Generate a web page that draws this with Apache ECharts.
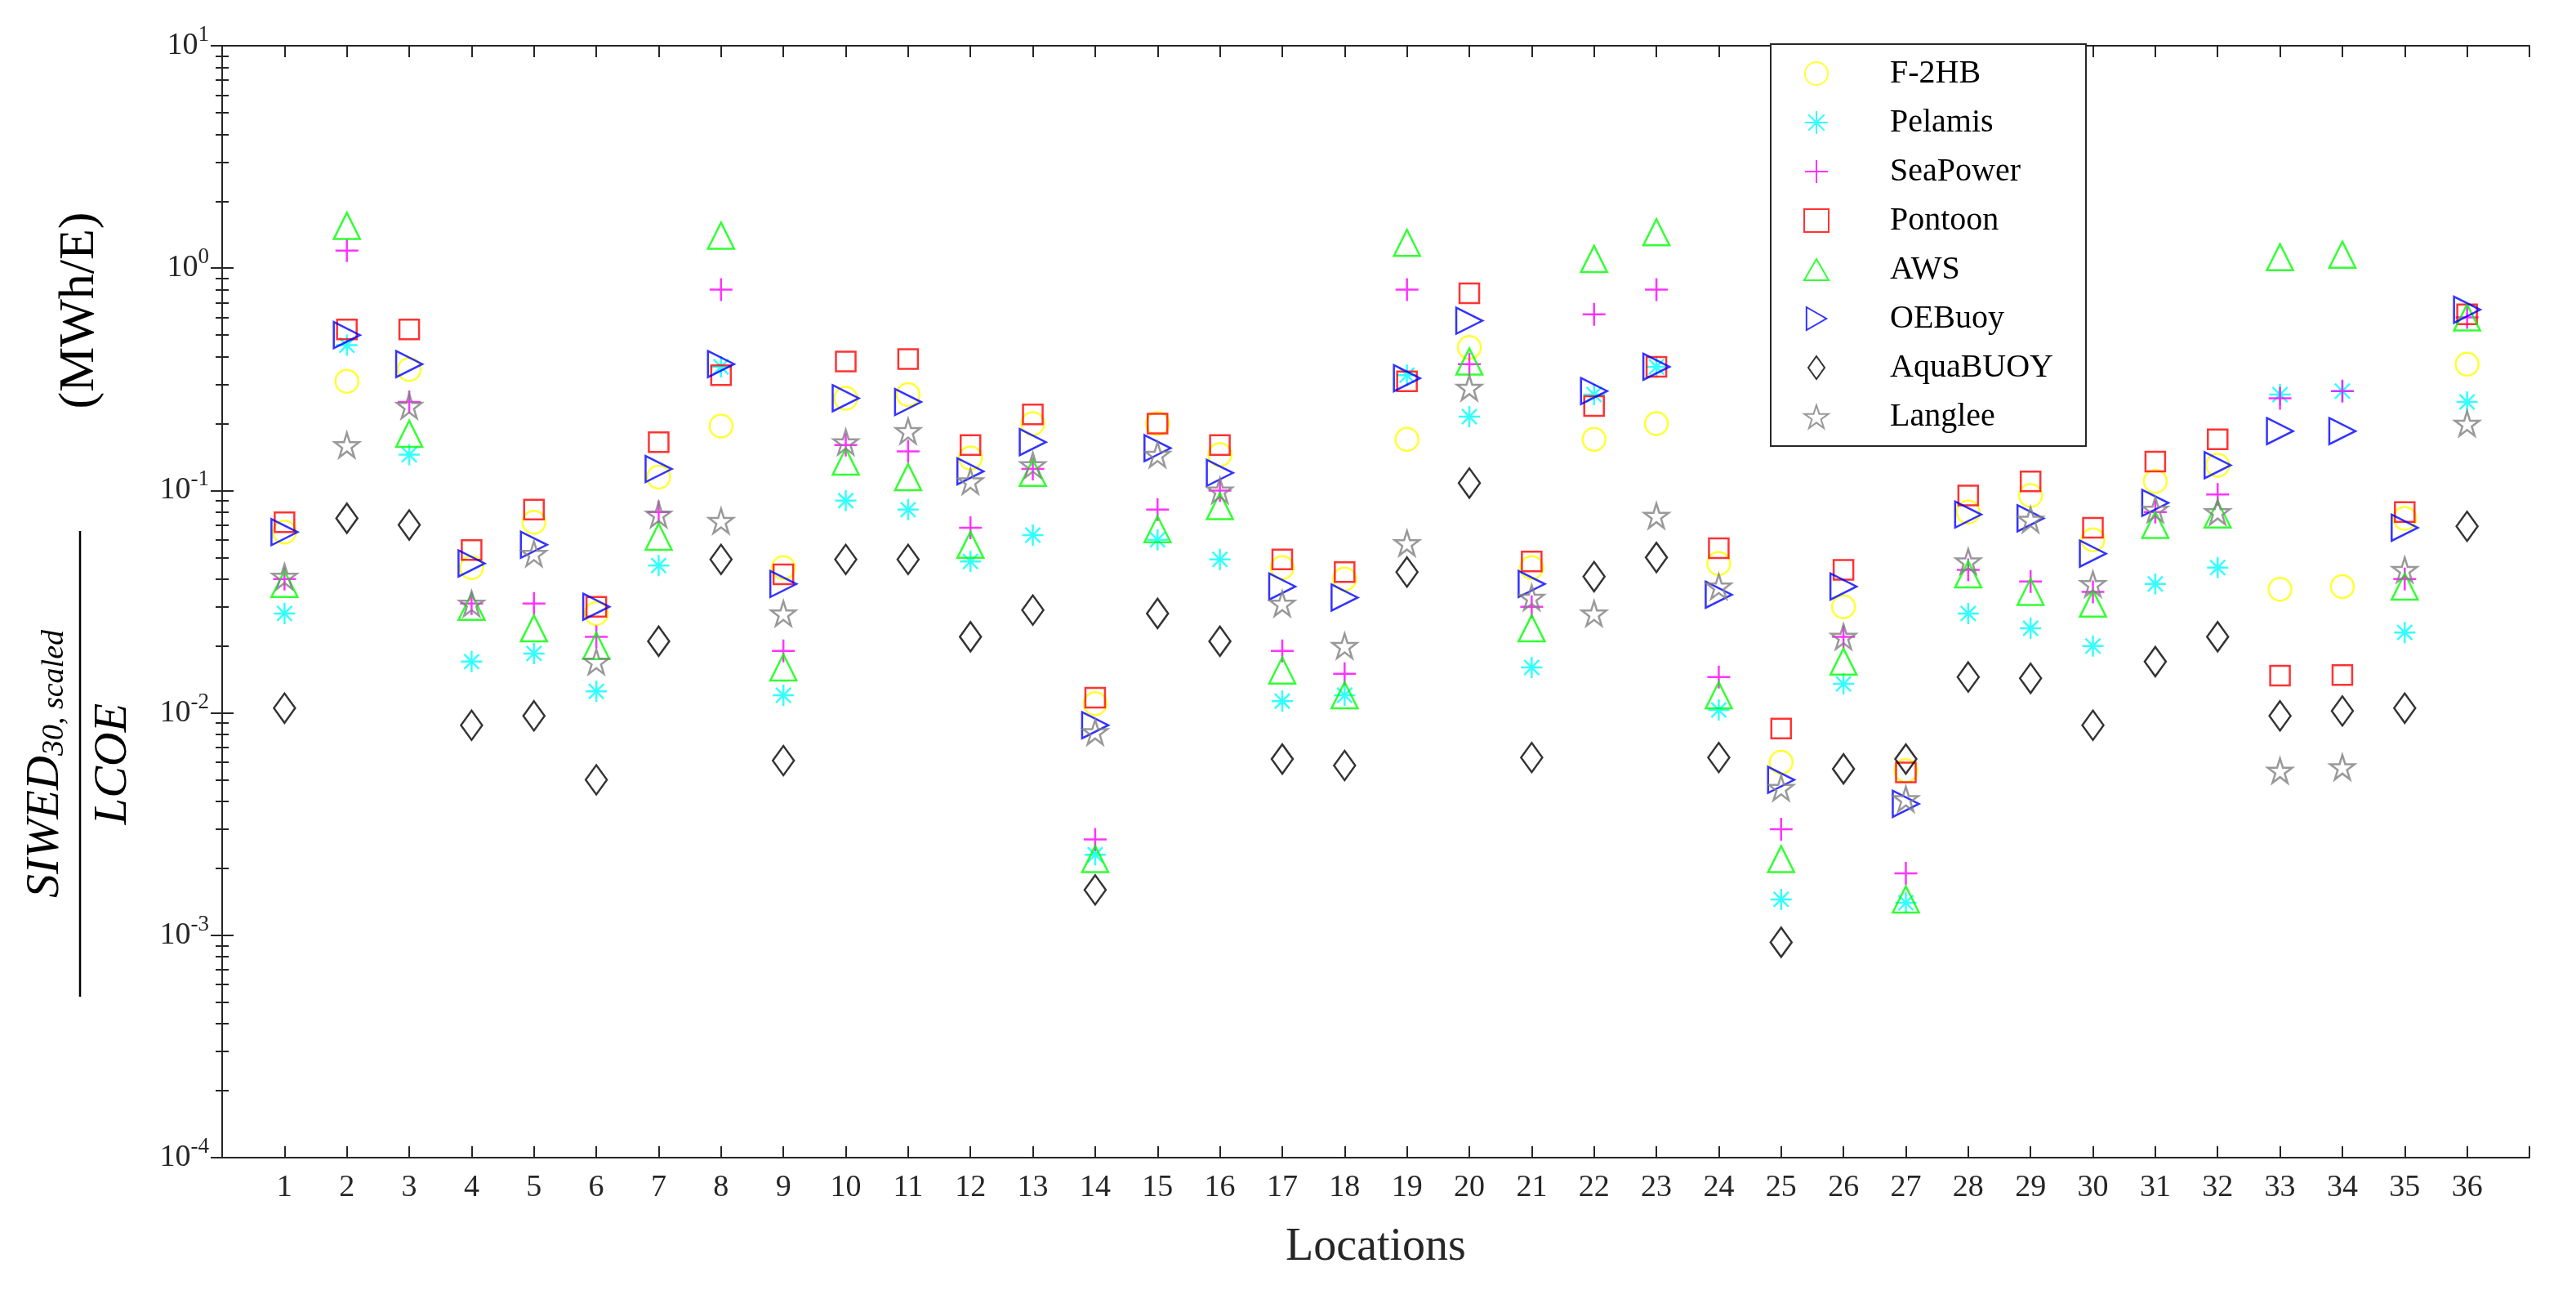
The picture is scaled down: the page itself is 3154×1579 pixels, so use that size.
<!DOCTYPE html>
<html lang="en">
<head>
    <meta charset="UTF-8">
    <title>SIWED / LCOE</title>
    <script src="https://cdn.jsdelivr.net/npm/echarts@6/dist/echarts.min.js"></script>
    <style>
        html, body {margin: 0; padding: 0; background: #fff;}
        #main {width: 3154px; height: 1579px;}
    </style>
</head>
<body>
<div id="main"></div>
<script>
    // 数据
    let locations = [];
    for (let i = 1; i <= 36; i++) locations.push(i);
    let yTicks = [1e-4, 1e-3, 1e-2, 1e-1, 1, 10];

    let f2hb = [0.065, 0.31, 0.35, 0.045, 0.072, 0.028, 0.115, 0.195, 0.045, 0.26, 0.27, 0.14, 0.2, 0.011, 0.2, 0.145, 0.045, 0.04,
        0.17, 0.44, 0.045, 0.17, 0.2, 0.047, 0.006, 0.03, 0.0055, 0.08, 0.095, 0.06, 0.11, 0.13, 0.036, 0.037, 0.075, 0.37];
    let pelamis = [0.028, 0.45, 0.145, 0.017, 0.0185, 0.0125, 0.046, 0.36, 0.012, 0.09, 0.082, 0.048, 0.063, 0.0023, 0.06, 0.049, 0.0113, 0.012,
        0.33, 0.215, 0.016, 0.27, 0.36, 0.0103, 0.00145, 0.0135, 0.0014, 0.028, 0.024, 0.02, 0.038, 0.045, 0.27, 0.28, 0.023, 0.25];
    let seaPower = [0.04, 1.2, 0.25, 0.031, 0.031, 0.022, 0.08, 0.8, 0.019, 0.16, 0.15, 0.068, 0.125, 0.0027, 0.082, 0.1, 0.019, 0.015,
        0.8, 0.37, 0.03, 0.62, 0.8, 0.0145, 0.003, 0.022, 0.0019, 0.044, 0.039, 0.035, 0.08, 0.096, 0.26, 0.28, 0.04, 0.6];
    let pontoon = [0.072, 0.53, 0.53, 0.054, 0.082, 0.03, 0.165, 0.33, 0.042, 0.38, 0.39, 0.16, 0.22, 0.0117, 0.2, 0.16, 0.049, 0.043,
        0.31, 0.77, 0.048, 0.24, 0.36, 0.055, 0.0085, 0.044, 0.0054, 0.095, 0.11, 0.068, 0.135, 0.17, 0.0147, 0.0148, 0.08, 0.62];
    let aws = [0.038, 1.55, 0.18, 0.03, 0.024, 0.02, 0.062, 1.4, 0.016, 0.135, 0.115, 0.057, 0.12, 0.0022, 0.067, 0.085, 0.0155, 0.012,
        1.3, 0.38, 0.024, 1.1, 1.45, 0.012, 0.0022, 0.017, 0.00145, 0.042, 0.035, 0.031, 0.07, 0.078, 1.12, 1.15, 0.037, 0.6];
    let oeBuoy = [0.065, 0.5, 0.37, 0.047, 0.057, 0.03, 0.125, 0.37, 0.038, 0.26, 0.25, 0.122, 0.165, 0.0088, 0.155, 0.12, 0.037, 0.033,
        0.32, 0.58, 0.038, 0.28, 0.36, 0.034, 0.005, 0.037, 0.0039, 0.078, 0.075, 0.052, 0.088, 0.13, 0.185, 0.185, 0.068, 0.65];
    let aquaBuoy = [0.0105, 0.075, 0.07, 0.0088, 0.0097, 0.005, 0.021, 0.049, 0.0061, 0.049, 0.049, 0.022, 0.029, 0.0016, 0.028, 0.021, 0.0062, 0.0058,
        0.043, 0.108, 0.0063, 0.041, 0.05, 0.0063, 0.00093, 0.0056, 0.0062, 0.0145, 0.0143, 0.0088, 0.017, 0.022, 0.0097, 0.0102, 0.0105, 0.069];
    let langlee = [0.041, 0.16, 0.24, 0.031, 0.052, 0.017, 0.078, 0.073, 0.028, 0.165, 0.185, 0.11, 0.13, 0.0082, 0.145, 0.1, 0.031, 0.02,
        0.058, 0.29, 0.033, 0.028, 0.077, 0.037, 0.0046, 0.022, 0.0041, 0.048, 0.074, 0.038, 0.082, 0.08, 0.0055, 0.0057, 0.044, 0.2];

    // 符号
    let sym = {
        circle: 'circle',
        asterisk: 'path://M5,0 L5,10 M0,5 L10,5 M1.5,1.5 L8.5,8.5 M8.5,1.5 L1.5,8.5',
        plus: 'path://M5,0 L5,10 M0,5 L10,5',
        square: 'rect',
        triUp: 'path://M5,0 L10,8.7 L0,8.7 Z',
        triRight: 'path://M0,0 L8.7,5 L0,10 Z',
        diamond: 'path://M5,0 L10,7 L5,14 L0,7 Z',
        star: 'path://M5,0 L6.18,3.62 L10,3.62 L6.9,5.86 L8.09,9.5 L5,7.24 L1.91,9.5 L3.1,5.86 L0,3.62 L3.82,3.62 Z'
    };

    let seriesDefs = [
        {name: 'F-2HB', data: f2hb, color: '#ffff00', symbol: sym.circle, size: 28},
        {name: 'Pelamis', data: pelamis, color: '#00ffff', symbol: sym.asterisk, size: 26},
        {name: 'SeaPower', data: seaPower, color: '#ff00ff', symbol: sym.plus, size: 28},
        {name: 'Pontoon', data: pontoon, color: '#ff0000', symbol: sym.square, size: 24},
        {name: 'AWS', data: aws, color: '#00ff00', symbol: sym.triUp, size: 32},
        {name: 'OEBuoy', data: oeBuoy, color: '#0000ff', symbol: sym.triRight, size: 32},
        {name: 'AquaBUOY', data: aquaBuoy, color: '#000000', symbol: sym.diamond, size: [26, 36]},
        {name: 'Langlee', data: langlee, color: '#808080', symbol: sym.star, size: 30}
    ];

    let font = '"Liberation Serif", "DejaVu Serif", serif';

    let series = seriesDefs.map(s => ({
        name: s.name,
        type: 'scatter',
        symbol: s.symbol,
        symbolSize: s.size,
        data: locations.map((x, i) => [x, s.data[i]]),
        itemStyle: {color: 'rgba(0,0,0,0)', borderColor: s.color, borderWidth: 2.5},
        emphasis: {disabled: true}
    }));

    let myChart = echarts.init(document.getElementById('main'));
    let tickStyle = {inside: true, length: 14, lineStyle: {color: '#262626', width: 2}};
    let option = {
        animation: false,
        backgroundColor: '#fff',
        grid: {left: 272, right: 57, top: 56, bottom: 162},
        legend: {
            orient: 'vertical',
            left: 2168, top: 54,
            padding: [16, 40, 16, 40],
            itemGap: 20,
            itemWidth: 30, itemHeight: 28,
            borderColor: '#262626', borderWidth: 2,
            backgroundColor: '#fff',
            textStyle: {fontFamily: font, fontSize: 40, color: '#000', padding: [0, 0, 0, 70], width: 265},
            data: seriesDefs.map(s => s.name)
        },
        xAxis: [{
            type: 'value', min: 0, max: 37, interval: 1,
            name: 'Locations', nameLocation: 'middle', nameGap: 82,
            nameTextStyle: {fontFamily: font, fontSize: 56, color: '#262626'},
            axisLine: {lineStyle: {color: '#262626', width: 2}},
            axisTick: tickStyle,
            splitLine: {show: false},
            axisLabel: {
                fontFamily: font, fontSize: 38, color: '#262626', margin: 18,
                formatter: v => (v >= 1 && v <= 36) ? String(v) : ''
            }
        }, {
            type: 'value', min: 0, max: 37, interval: 1, position: 'top',
            axisLine: {lineStyle: {color: '#262626', width: 2}},
            axisTick: tickStyle, axisLabel: {show: false}, splitLine: {show: false}
        }],
        yAxis: [{
            type: 'log', min: yTicks[0], max: yTicks[yTicks.length - 1], logBase: 10,
            axisLine: {show: true, lineStyle: {color: '#262626', width: 2}},
            axisTick: tickStyle,
            minorTick: {show: true, splitNumber: 9, length: 8, lineStyle: {color: '#262626', width: 2}},
            splitLine: {show: false},
            axisLabel: {
                margin: 16,
                formatter: v => '{b|10}{s|' + Math.round(Math.log10(v)) + '}',
                rich: {
                    b: {fontFamily: font, fontSize: 38, color: '#262626'},
                    s: {fontFamily: font, fontSize: 27, color: '#262626', padding: [0, 0, 26, 0]}
                }
            }
        }, {
            type: 'log', min: yTicks[0], max: yTicks[yTicks.length - 1], logBase: 10, position: 'right',
            axisLine: {show: true, lineStyle: {color: '#262626', width: 2}},
            axisTick: tickStyle,
            minorTick: {show: true, splitNumber: 9, length: 8, lineStyle: {color: '#262626', width: 2}},
            axisLabel: {show: false}, splitLine: {show: false}
        }],
        graphic: [{
            type: 'group', x: 104, y: 735, rotation: Math.PI / 2,
            children: [
                {
                    type: 'text', x: -200, y: -18,
                    style: {
                        text: '{m|SIWED}{s|30, scaled}', align: 'center', verticalAlign: 'bottom',
                        rich: {
                            m: {fontFamily: font, fontStyle: 'italic', fontSize: 58, fill: '#000'},
                            s: {fontFamily: font, fontStyle: 'italic', fontSize: 38, fill: '#000', padding: [22, 0, 0, 0]}
                        }
                    }
                },
                {type: 'line', shape: {x1: -485, y1: -6, x2: 85, y2: -6}, style: {stroke: '#000', lineWidth: 2.5}},
                {
                    type: 'text', x: -200, y: 6,
                    style: {text: 'LCOE', align: 'center', verticalAlign: 'top', fontFamily: font, fontStyle: 'italic', fontSize: 58, fill: '#000'}
                },
                {
                    type: 'text', x: 355, y: -6,
                    style: {text: '(MWh/E)', align: 'center', verticalAlign: 'middle', fontFamily: font, fontSize: 62, fill: '#000'}
                }
            ]
        }],
        series: series
    };
    myChart.setOption(option);
</script>
</body>
</html>
